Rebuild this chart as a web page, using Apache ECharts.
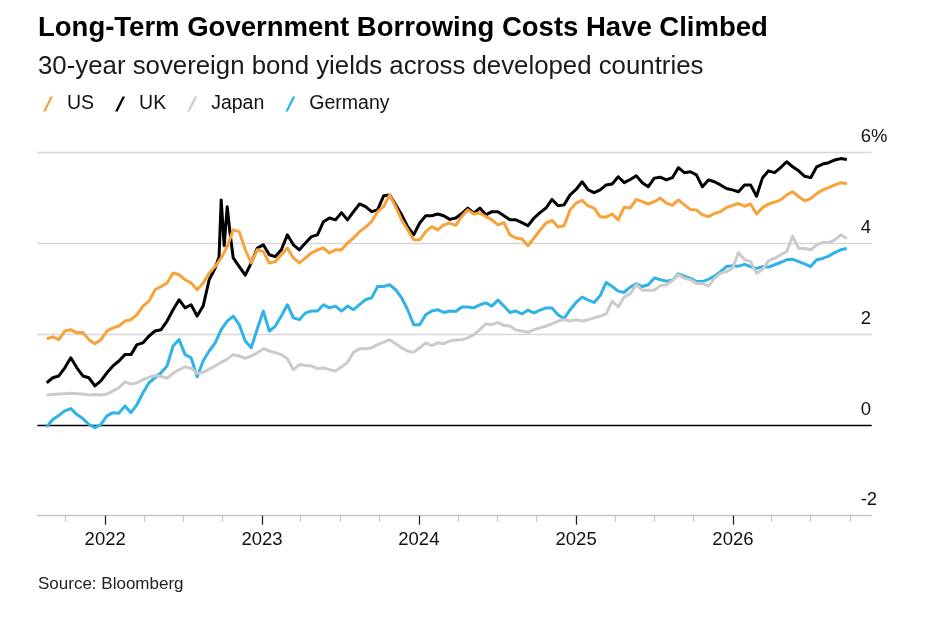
<!DOCTYPE html>
<html>
<head>
<meta charset="utf-8">
<title>Long-Term Government Borrowing Costs Have Climbed</title>
<script src="https://cdn.jsdelivr.net/npm/echarts@6/dist/echarts.min.js"></script>
<style>
  html, body { margin: 0; padding: 0; background: #fff; }
  #chart { width: 934px; height: 620px; }
</style>
</head>
<body>
<div id="chart"></div>
<script>
"use strict";

// series start 2021-08-18, one reading every 14 days
const startDate = [2021, 7, 18];
const stepDays = 14;

// 30-year yields, %
const us = [
  1.90, 1.94, 1.88, 2.07, 2.10, 2.03, 2.04, 1.88, 1.79, 1.88,
  2.07, 2.14, 2.18, 2.29, 2.32, 2.43, 2.62, 2.73, 2.98, 3.05,
  3.13, 3.35, 3.31, 3.20, 3.13, 2.98, 3.13, 3.35, 3.49, 3.68,
  3.93, 4.30, 4.26, 3.86, 3.57, 3.86, 3.82, 3.57, 3.60, 3.75,
  3.90, 3.68, 3.57, 3.68, 3.79, 3.86, 3.90, 3.79, 3.86, 3.86,
  4.01, 4.12, 4.26, 4.36, 4.48, 4.70, 4.81, 5.07, 4.81, 4.52,
  4.30, 4.08, 4.08, 4.26, 4.37, 4.30, 4.41, 4.45, 4.40, 4.60,
  4.74, 4.65, 4.67, 4.59, 4.52, 4.41, 4.46, 4.19, 4.12, 4.10,
  3.95, 4.12, 4.29, 4.45, 4.51, 4.36, 4.39, 4.74, 4.89, 4.95,
  4.83, 4.78, 4.59, 4.58, 4.65, 4.52, 4.80, 4.78, 4.97, 4.92,
  4.87, 4.92, 5.00, 4.89, 4.84, 4.96, 4.85, 4.75, 4.74, 4.63,
  4.59, 4.66, 4.70, 4.79, 4.84, 4.88, 4.82, 4.87, 4.65, 4.79,
  4.87, 4.91, 4.96, 5.07, 5.14, 5.03, 4.94, 4.99, 5.10, 5.18,
  5.23, 5.29, 5.34, 5.32
];
const uk = [
  0.93, 1.04, 1.08, 1.26, 1.48, 1.26, 1.08, 1.04, 0.86, 0.97,
  1.15, 1.30, 1.41, 1.55, 1.55, 1.77, 1.81, 1.96, 2.07, 2.10,
  2.29, 2.54, 2.76, 2.58, 2.65, 2.40, 2.62, 3.20, 3.46, 4.96,
  4.81, 3.68, 3.49, 3.30, 3.57, 3.90, 3.97, 3.75, 3.71, 3.86,
  4.19, 3.97, 3.86, 4.01, 4.15, 4.19, 4.48, 4.56, 4.52, 4.68,
  4.52, 4.70, 4.87, 4.81, 4.70, 4.74, 5.05, 5.07, 4.85, 4.63,
  4.37, 4.19, 4.45, 4.61, 4.61, 4.65, 4.61, 4.53, 4.56, 4.66,
  4.78, 4.67, 4.78, 4.63, 4.70, 4.70, 4.61, 4.52, 4.52, 4.46,
  4.39, 4.56, 4.68, 4.78, 4.97, 4.83, 4.85, 5.07, 5.19, 5.36,
  5.18, 5.12, 5.18, 5.29, 5.31, 5.47, 5.34, 5.41, 5.49, 5.34,
  5.25, 5.44, 5.46, 5.40, 5.45, 5.67, 5.56, 5.58, 5.51, 5.25,
  5.40, 5.36, 5.29, 5.21, 5.18, 5.14, 5.29, 5.29, 5.04, 5.45,
  5.60, 5.56, 5.67, 5.80, 5.69, 5.60, 5.48, 5.45, 5.69, 5.75,
  5.78, 5.84, 5.87, 5.85
];
// extra UK readings around the autumn 2022 gilt spike
const ukSpikeDates = ["2022-09-23", "2022-10-05", "2022-10-19"];
const ukSpikeValues = [3.70, 3.95, 4.20];

const japan = [
  0.66, 0.67, 0.68, 0.69, 0.70, 0.69, 0.68, 0.66, 0.67, 0.66,
  0.68, 0.75, 0.82, 0.95, 0.90, 0.93, 1.00, 1.05, 1.09, 1.07,
  1.03, 1.14, 1.22, 1.28, 1.25, 1.13, 1.16, 1.23, 1.30, 1.38,
  1.45, 1.55, 1.52, 1.47, 1.52, 1.59, 1.68, 1.63, 1.59, 1.55,
  1.46, 1.22, 1.33, 1.31, 1.30, 1.24, 1.26, 1.22, 1.19, 1.28,
  1.38, 1.60, 1.68, 1.68, 1.70, 1.77, 1.82, 1.88, 1.79, 1.70,
  1.63, 1.60, 1.70, 1.81, 1.75, 1.81, 1.79, 1.85, 1.87, 1.88,
  1.92, 1.99, 2.10, 2.23, 2.21, 2.26, 2.19, 2.18, 2.09, 2.07,
  2.04, 2.10, 2.14, 2.18, 2.23, 2.29, 2.32, 2.29, 2.32, 2.29,
  2.32, 2.36, 2.40, 2.45, 2.73, 2.60, 2.82, 2.89, 3.09, 2.97,
  2.97, 2.97, 3.07, 3.09, 3.18, 3.31, 3.23, 3.20, 3.12, 3.12,
  3.06, 3.23, 3.34, 3.38, 3.45, 3.80, 3.64, 3.60, 3.34, 3.43,
  3.62, 3.67, 3.75, 3.82, 4.16, 3.89, 3.89, 3.86, 3.97, 4.02,
  4.02, 4.08, 4.19, 4.11
];
const germany = [
  -0.04, 0.12, 0.21, 0.31, 0.36, 0.23, 0.14, 0.01, -0.06, 0.01,
  0.20, 0.27, 0.26, 0.42, 0.27, 0.45, 0.71, 0.93, 1.04, 1.15,
  1.30, 1.74, 1.88, 1.55, 1.48, 1.06, 1.41, 1.63, 1.81, 2.10,
  2.29, 2.40, 2.21, 1.85, 1.70, 2.12, 2.51, 2.07, 2.18, 2.40,
  2.65, 2.36, 2.32, 2.47, 2.51, 2.51, 2.65, 2.58, 2.62, 2.51,
  2.62, 2.54, 2.65, 2.76, 2.80, 3.05, 3.05, 3.09, 2.98, 2.80,
  2.54, 2.21, 2.21, 2.43, 2.51, 2.54, 2.48, 2.51, 2.50, 2.60,
  2.60, 2.58, 2.65, 2.69, 2.62, 2.75, 2.62, 2.48, 2.51, 2.45,
  2.53, 2.47, 2.53, 2.58, 2.58, 2.43, 2.34, 2.54, 2.70, 2.82,
  2.75, 2.70, 2.85, 3.14, 3.05, 2.95, 2.92, 3.04, 3.11, 3.05,
  3.09, 3.24, 3.20, 3.17, 3.19, 3.33, 3.28, 3.23, 3.16, 3.16,
  3.21, 3.28, 3.38, 3.49, 3.51, 3.50, 3.54, 3.49, 3.45, 3.49,
  3.48, 3.53, 3.58, 3.64, 3.65, 3.60, 3.55, 3.49, 3.64, 3.67,
  3.72, 3.80, 3.86, 3.89
];

const yearTicks = [2022, 2023, 2024, 2025, 2026];
const yTicks = { min: -2, max: 6, interval: 2 };

// colours
const cUS = "#f7a23a";
const cUK = "#000000";
const cJapan = "#cbcbcb";
const cGermany = "#2fb3e6";

const fontFamily = "'Liberation Sans', Arial, sans-serif";

// helpers
function localDate(str) {
  let p = str.split("-");
  return new Date(+p[0], +p[1] - 1, +p[2]).getTime();
}
const dates = us.map(function(_, i) {
  return new Date(startDate[0], startDate[1], startDate[2] + i * stepDays).getTime();
});
function pairs(values) {
  return values.map(function(v, i) { return [dates[i], v]; });
}

let ukData = pairs(uk);
for (let i = 0; i < ukSpikeDates.length; i++) {
  ukData.push([localDate(ukSpikeDates[i]), ukSpikeValues[i]]);
}
ukData.sort(function(a, b) { return a[0] - b[0]; });

// tick positions: years (major) and the other quarter starts (minor)
const yearStarts = yearTicks.map(function(y) { return new Date(y, 0, 1).getTime(); });
let quarterStarts = [new Date(2021, 9, 1).getTime()];
yearTicks.forEach(function(y) {
  [3, 6, 9].forEach(function(m) { quarterStarts.push(new Date(y, m, 1).getTime()); });
});

// x axis is a plain value axis in milliseconds, so custom tick lists work
const axisMin = new Date(2021, 6, 27).getTime();
const axisMax = new Date(2026, 10, 20).getTime();

function lineSeries(name, data, color, z) {
  return {
    name: name,
    type: "line",
    data: data,
    xAxisIndex: 0,
    showSymbol: false,
    symbol: "none",
    z: z,
    lineStyle: { color: color, width: 3, join: "round" },
    itemStyle: { color: color },
    emphasis: { disabled: true }
  };
}

let chart = echarts.init(document.getElementById("chart"), null, { renderer: "canvas" });

let option = {
  animation: false,
  backgroundColor: "#ffffff",
  textStyle: { fontFamily: fontFamily },
  graphic: [
    {
      type: "text", left: 38, top: 14,
      style: {
        text: "Long-Term Government Borrowing Costs Have Climbed",
        font: "bold 27.5px " + fontFamily, fill: "#000"
      }
    },
    {
      type: "text", left: 38, top: 54,
      style: {
        text: "30-year sovereign bond yields across developed countries",
        font: "25.8px " + fontFamily, fill: "#1a1a1a"
      }
    },
    {
      type: "text", left: 38, top: 576,
      style: { text: "Source: Bloomberg", font: "17px " + fontFamily, fill: "#222" }
    }
  ],
  legend: {
    left: 38,
    top: 89,
    itemGap: 21,
    itemWidth: 10,
    itemHeight: 15,
    icon: "path://M0,15L7.5,0L10,0L2.5,15Z",
    selectedMode: false,
    textStyle: { fontSize: 19.5, color: "#111", fontFamily: fontFamily, padding: [0, 0, 0, 9] },
    data: ["US", "UK", "Japan", "Germany"]
  },
  grid: {
    left: 37.3,
    right: 62.3,
    top: 152.7,
    bottom: 104.3,
    containLabel: false,
    outerBoundsMode: "none"
  },
  xAxis: [
    {
      type: "value",
      min: axisMin,
      max: axisMax,
      axisLine: { onZero: false, lineStyle: { color: "#c6c6c6", width: 1.2 } },
      axisTick: {
        show: true,
        customValues: yearStarts,
        length: 9,
        lineStyle: { color: "#222", width: 1.3 }
      },
      axisLabel: {
        customValues: yearStarts,
        formatter: function(v) { return String(new Date(v).getFullYear()); },
        fontSize: 18.5,
        color: "#111",
        margin: 15,
        fontFamily: fontFamily
      },
      splitLine: { show: false }
    },
    {
      type: "value",
      min: axisMin,
      max: axisMax,
      position: "bottom",
      axisLine: { show: false, onZero: false },
      axisTick: {
        show: true,
        customValues: quarterStarts,
        length: 6,
        lineStyle: { color: "#c6c6c6", width: 1.2 }
      },
      axisLabel: { show: false },
      splitLine: { show: false }
    }
  ],
  yAxis: {
    type: "value",
    position: "right",
    min: yTicks.min,
    max: yTicks.max,
    interval: yTicks.interval,
    axisLine: { show: false },
    axisTick: { show: false },
    axisLabel: {
      margin: -11,
      align: "left",
      verticalAlign: "bottom",
      lineHeight: 31,
      fontSize: 18.5,
      color: "#111",
      fontFamily: fontFamily,
      formatter: function(v) { return v === 6 ? "6%" : String(v); }
    },
    splitLine: {
      show: true,
      lineStyle: { color: ["#c6c6c6", "#000000", "#d6d6d6", "#d6d6d6", "#d6d6d6"], width: 1.3 }
    }
  },
  series: [
    lineSeries("US", pairs(us), cUS, 5),
    lineSeries("UK", ukData, cUK, 3),
    lineSeries("Japan", pairs(japan), cJapan, 4),
    lineSeries("Germany", pairs(germany), cGermany, 2)
  ]
};

chart.setOption(option);
</script>
</body>
</html>
